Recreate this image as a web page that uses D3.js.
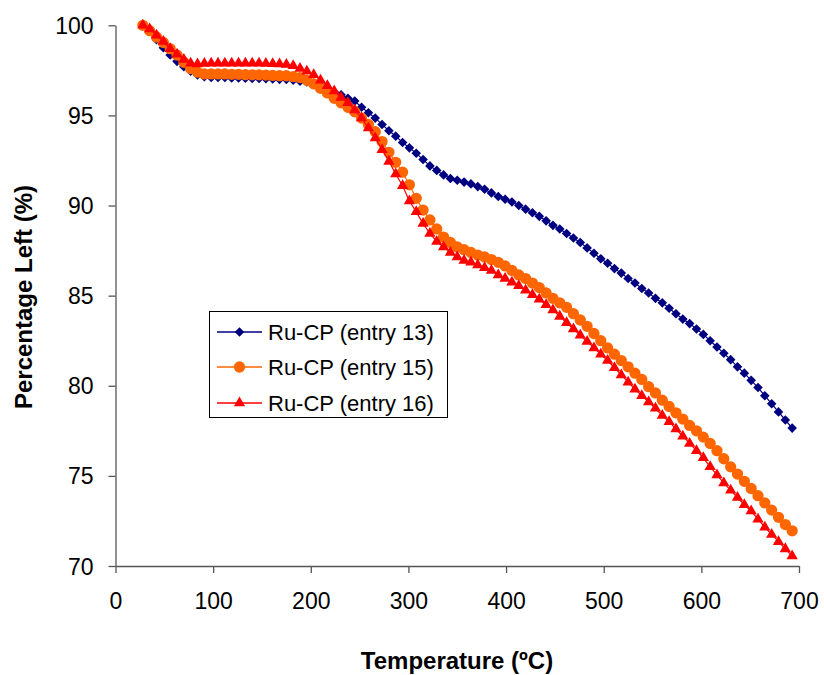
<!DOCTYPE html>
<html>
<head>
<meta charset="utf-8">
<script src="https://cdn.jsdelivr.net/npm/d3@7/dist/d3.min.js"></script>
<style>
  html, body { margin: 0; padding: 0; background: #fff; }
  svg { display: block; font-family: "Liberation Sans", Arial, sans-serif; }
</style>
</head>
<body>
<svg id="chart" width="824" height="675"></svg>
<script>
// ---- data ----
const temperature = [28,35,42,49,56,63,70,77,84,91,98,105,112,119,126,133,140,147,154,161,168,175,182,189,196,203,210,217,224,231,238,245,252,259,266,273,280,287,294,301,308,315,322,329,336,343,350,357,364,371,378,385,392,399,406,413,420,427,434,441,448,455,462,469,476,483,490,497,504,511,518,525,532,539,546,553,560,567,574,581,588,595,602,609,616,623,630,637,644,651,658,665,672,679,686,693];

const entry13 = [100,99.7,99.2,98.75,98.35,98.0,97.7,97.45,97.25,97.15,97.1,97.1,97.1,97.08,97.08,97.06,97.05,97.05,97.04,97.02,97.0,97.0,96.95,96.9,96.85,96.8,96.65,96.5,96.3,96.15,95.95,95.8,95.45,95.15,94.85,94.5,94.15,93.85,93.5,93.2,92.9,92.55,92.2,91.95,91.7,91.5,91.4,91.3,91.2,91.05,90.9,90.7,90.5,90.35,90.2,90.0,89.8,89.6,89.4,89.15,88.9,88.7,88.45,88.2,87.95,87.65,87.35,87.05,86.8,86.5,86.25,85.95,85.7,85.4,85.15,84.85,84.6,84.3,84.0,83.7,83.45,83.15,82.85,82.5,82.15,81.8,81.45,81.05,80.7,80.3,79.9,79.45,79.0,78.55,78.1,77.65];

const entry15 = [100,99.7,99.35,99.05,98.7,98.35,97.95,97.6,97.4,97.3,97.3,97.3,97.3,97.28,97.28,97.26,97.25,97.25,97.24,97.22,97.2,97.2,97.15,97.1,96.95,96.75,96.5,96.25,95.95,95.7,95.45,95.2,94.85,94.5,94.1,93.55,92.95,92.4,91.85,91.15,90.4,89.75,89.2,88.7,88.25,87.95,87.7,87.55,87.4,87.25,87.15,87.0,86.85,86.65,86.4,86.15,85.95,85.7,85.45,85.15,84.85,84.6,84.35,84.0,83.65,83.3,82.9,82.5,82.1,81.75,81.4,81.05,80.7,80.35,79.95,79.6,79.2,78.85,78.5,78.15,77.8,77.5,77.15,76.8,76.4,75.95,75.5,75.1,74.7,74.3,73.9,73.5,73.1,72.7,72.3,71.95];

const entry16 = [100,99.8,99.45,99.1,98.7,98.4,98.1,97.9,97.85,97.88,97.9,97.9,97.9,97.9,97.9,97.9,97.9,97.9,97.88,97.86,97.85,97.82,97.75,97.6,97.45,97.25,96.95,96.65,96.35,96.0,95.7,95.3,94.85,94.3,93.75,93.1,92.45,91.75,91.1,90.25,89.65,89.0,88.45,88.0,87.7,87.4,87.15,86.95,86.85,86.7,86.55,86.4,86.15,85.95,85.75,85.55,85.3,85.05,84.8,84.5,84.2,83.85,83.5,83.15,82.8,82.45,82.1,81.75,81.4,81.0,80.6,80.2,79.8,79.45,79.1,78.75,78.35,78.0,77.6,77.2,76.8,76.4,76.0,75.5,75.05,74.6,74.2,73.8,73.4,73.05,72.6,72.15,71.75,71.35,70.95,70.55];

const seriesNames = ["Ru-CP (entry 13)", "Ru-CP (entry 15)", "Ru-CP (entry 16)"];
const xTicks = [0,100,200,300,400,500,600,700];
const yTicks = [70,75,80,85,90,95,100];
const xTitle = "Temperature (ºC)";
const yTitle = "Percentage Left (%)";

// ---- styles ----
const colors = ["#000080", "#FF6600", "#FF0000"];
const symbols = [
  d3.symbol().type(d3.symbolSquare).size(46),
  d3.symbol().type(d3.symbolCircle).size(100),
  d3.symbol().type(d3.symbolTriangle).size(55)
];
const rotations = [45, 0, 0];

const svg = d3.select("#chart");
const x = d3.scaleLinear().domain([0, 700]).range([115.5, 799]);
const y = d3.scaleLinear().domain([70, 100]).range([566, 25.3]);

// axes
const xAxis = svg.append("g").attr("transform", `translate(0,${y(70)})`)
  .call(d3.axisBottom(x).tickValues(xTicks).tickSize(7).tickPadding(20).tickSizeOuter(0));
const yAxis = svg.append("g").attr("transform", `translate(${x(0)},0)`)
  .call(d3.axisLeft(y).tickValues(yTicks).tickSize(7).tickPadding(15).tickSizeOuter(0));
[xAxis, yAxis].forEach(a => {
  a.select(".domain").attr("stroke", "#555").attr("stroke-width", 1.3);
  a.selectAll(".tick line").attr("stroke", "#555").attr("stroke-width", 1.3);
  a.selectAll(".tick text").attr("fill", "#000").style("font-size", "23px")
    .style("font-family", '"Liberation Sans", Arial, sans-serif');
});
yAxis.selectAll(".tick text").attr("dy", "0.35em");

// series
const all = [entry13, entry15, entry16];
all.forEach((vals, i) => {
  const pts = temperature.map((t, j) => [t, vals[j]]);
  const g = svg.append("g");
  g.append("path")
    .datum(pts)
    .attr("fill", "none")
    .attr("stroke", colors[i])
    .attr("stroke-width", 1.2)
    .attr("d", d3.line().x(d => x(d[0])).y(d => y(d[1])));
  g.selectAll("path.m")
    .data(pts)
    .enter().append("path")
    .attr("class", "m")
    .attr("d", symbols[i])
    .attr("fill", colors[i])
    .attr("transform", d => `translate(${x(d[0])},${y(d[1])}) rotate(${rotations[i]})`);
});

// legend
const lg = svg.append("g");
lg.append("rect").attr("x", 209.5).attr("y", 311.5).attr("width", 238).attr("height", 106)
  .attr("fill", "#fff").attr("stroke", "#000").attr("stroke-width", 1);
const rowY = [332, 367, 403];
seriesNames.forEach((name, i) => {
  lg.append("line").attr("x1", 217).attr("x2", 262).attr("y1", rowY[i]).attr("y2", rowY[i])
    .attr("stroke", colors[i]).attr("stroke-width", 1.5);
  lg.append("path").attr("d", symbols[i]).attr("fill", colors[i])
    .attr("transform", `translate(239.5,${rowY[i]}) rotate(${rotations[i]})`);
  lg.append("text").attr("x", 268).attr("y", rowY[i]).attr("dy", "0.35em")
    .style("font-size", "22px").attr("fill", "#000").text(name);
});

// axis titles
svg.append("text").attr("x", 457).attr("y", 669).attr("text-anchor", "middle")
  .style("font-size", "24px").style("font-weight", "bold").text(xTitle);
svg.append("text").attr("transform", "translate(32,297) rotate(-90)").attr("text-anchor", "middle")
  .style("font-size", "24px").style("font-weight", "bold").text(yTitle);
</script>
</body>
</html>
